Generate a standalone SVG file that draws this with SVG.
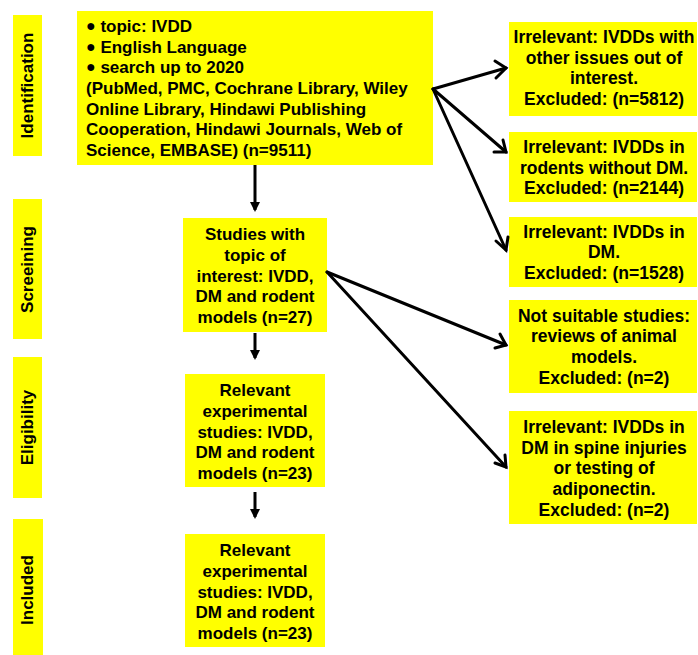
<svg xmlns="http://www.w3.org/2000/svg" width="698" height="655" viewBox="0 0 698 655">
<style>
.box{fill:#FFFF00;stroke:none}
.t{font-family:"Liberation Sans",Arial,sans-serif;font-weight:bold;font-size:17px;fill:#000}
.r{font-size:17.5px}
.c{text-anchor:middle}
.b{font-size:16px}
.lab{font-family:"Liberation Sans",Arial,sans-serif;font-weight:bold;font-size:17px;fill:#000;text-anchor:middle}
.ln{stroke:#000;stroke-width:3;fill:none}
.open{stroke:#000;stroke-width:3;fill:none;stroke-linecap:round;stroke-linejoin:miter}
</style>
<defs>
<marker id="fill" markerWidth="10" markerHeight="10" refX="8" refY="5" orient="auto" markerUnits="userSpaceOnUse">
<path d="M0,0 L10,5 L0,10 Z" fill="#000"/>
</marker>
</defs>
<rect width="698" height="655" fill="#fff"/>

<g id="stage-identification"><rect class="box" x="13" y="15" width="29" height="141"/><text class="lab" transform="translate(33,85.5) rotate(-90)">Identification</text></g>
<g id="stage-screening"><rect class="box" x="13" y="199" width="29" height="140"/><text class="lab" transform="translate(33,269.5) rotate(-90)">Screeining</text></g>
<g id="stage-eligibility"><rect class="box" x="13" y="357" width="29" height="141"/><text class="lab" transform="translate(33,427.5) rotate(-90)">Eligibility</text></g>
<g id="stage-included"><rect class="box" x="13" y="519" width="30" height="140"/><text class="lab" transform="translate(33,590) rotate(-90)">Included</text></g>

<g id="n-identification"><rect class="box" x="77" y="11" width="356" height="154"/>
<text class="t" x="86" y="32"><tspan class="b" dy="-1">●</tspan><tspan dy="1"> topic: IVDD</tspan></text>
<text class="t" x="86" y="53"><tspan class="b" dy="-1">●</tspan><tspan dy="1"> English Language</tspan></text>
<text class="t" x="86" y="73"><tspan class="b" dy="-1">●</tspan><tspan dy="1"> search up to 2020</tspan></text>
<text class="t" x="86" y="94">(PubMed, PMC, Cochrane Library, Wiley</text>
<text class="t" x="86" y="115">Online Library, Hindawi Publishing</text>
<text class="t" x="86" y="135">Cooperation, Hindawi Journals, Web of</text>
<text class="t" x="86" y="156">Science, EMBASE) (n=9511)</text>
</g>

<g id="n-screening"><rect class="box" x="183" y="218" width="144" height="114"/>
<text class="t c" x="255" y="240">Studies with</text>
<text class="t c" x="255" y="261">topic of</text>
<text class="t c" x="255" y="282">interest: IVDD,</text>
<text class="t c" x="255" y="302">DM and rodent</text>
<text class="t c" x="255" y="323">models (n=27)</text>
</g>

<g id="n-eligibility"><rect class="box" x="185" y="374" width="140" height="113"/>
<text class="t c" x="255" y="396">Relevant</text>
<text class="t c" x="255" y="417">experimental</text>
<text class="t c" x="255" y="438">studies: IVDD,</text>
<text class="t c" x="255" y="458">DM and rodent</text>
<text class="t c" x="255" y="479">models (n=23)</text>
</g>

<g id="n-included"><rect class="box" x="185" y="534" width="140" height="113"/>
<text class="t c" x="255" y="556">Relevant</text>
<text class="t c" x="255" y="577">experimental</text>
<text class="t c" x="255" y="598">studies: IVDD,</text>
<text class="t c" x="255" y="618">DM and rodent</text>
<text class="t c" x="255" y="639">models (n=23)</text>
</g>

<g id="x-other"><rect class="box" x="509" y="22" width="188" height="94"/>
<text class="t r c" x="604" y="43">Irrelevant: IVDDs with</text>
<text class="t r c" x="604" y="64">other issues out of</text>
<text class="t r c" x="604" y="84">interest.</text>
<text class="t r c" x="604" y="105">Excluded: (n=5812)</text>
</g>

<g id="x-rodents"><rect class="box" x="509" y="132" width="188" height="70"/>
<text class="t r c" x="604" y="153">Irrelevant: IVDDs in</text>
<text class="t r c" x="604" y="174">rodents without DM.</text>
<text class="t r c" x="604" y="194">Excluded: (n=2144)</text>
</g>

<g id="x-dm"><rect class="box" x="509" y="217" width="188" height="70"/>
<text class="t r c" x="604" y="238">Irrelevant: IVDDs in</text>
<text class="t r c" x="604" y="258">DM.</text>
<text class="t r c" x="604" y="279">Excluded: (n=1528)</text>
</g>

<g id="x-reviews"><rect class="box" x="509" y="300" width="188" height="93"/>
<text class="t r c" x="604" y="322">Not suitable studies:</text>
<text class="t r c" x="604" y="342">reviews of animal</text>
<text class="t r c" x="604" y="363">models.</text>
<text class="t r c" x="604" y="384">Excluded: (n=2)</text>
</g>

<g id="x-spine"><rect class="box" x="509" y="411" width="188" height="113"/>
<text class="t r c" x="604" y="433">Irrelevant: IVDDs in</text>
<text class="t r c" x="604" y="454">DM in spine injuries</text>
<text class="t r c" x="604" y="474">or testing of</text>
<text class="t r c" x="604" y="495">adiponectin.</text>
<text class="t r c" x="604" y="516">Excluded: (n=2)</text>
</g>

<g id="connectors">
<line class="ln" x1="255" y1="165" x2="255" y2="210" marker-end="url(#fill)"/>
<line class="ln" x1="255" y1="333" x2="255" y2="358" marker-end="url(#fill)"/>
<line class="ln" x1="255" y1="492" x2="255" y2="517" marker-end="url(#fill)"/>
<polyline class="open" points="433,89 506,68"/>
<polyline class="open" points="495,61 506,68 496,78"/>
<polyline class="open" points="433,89 506,152"/>
<polyline class="open" points="494,152 506,152 503,140"/>
<polyline class="open" points="433,89 506,250"/>
<polyline class="open" points="496,241 506,250 508,237"/>
<polyline class="open" points="327,272 506,345"/>
<polyline class="open" points="495,348 506,345 500,334"/>
<polyline class="open" points="327,272 506,467"/>
<polyline class="open" points="495,463 506,467 505,455"/>
</g>
</svg>
